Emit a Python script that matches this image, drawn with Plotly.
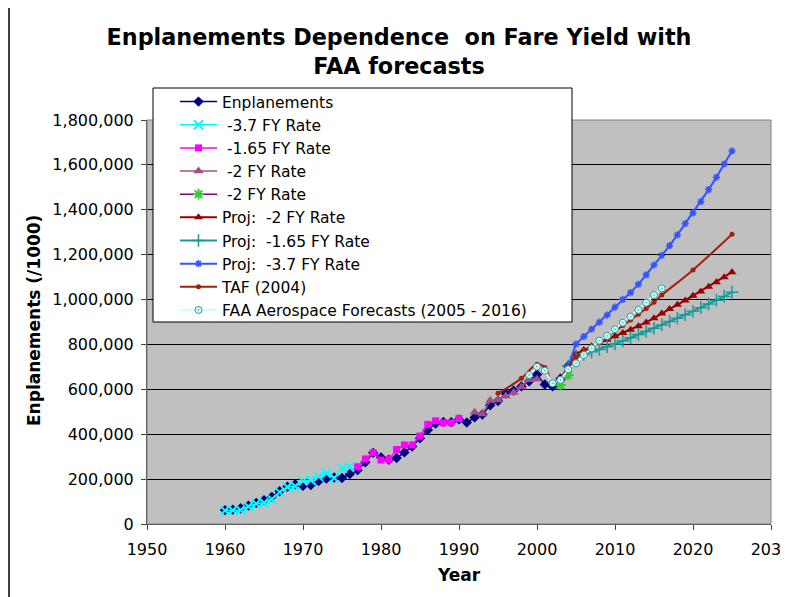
import plotly.graph_objects as go

# ---------------- data ----------------
enp_years = list(range(1960, 2005))
enp_vals = [62000, 64000, 70000, 82000, 94000, 106000, 121000, 146000, 166000, 177000,
            170000, 174000, 191000, 202000, 207000, 205000, 223000, 240000, 275000, 317000,
            297000, 286000, 294000, 319000, 345000, 382000, 419000, 448000, 455000, 454000,
            466000, 452000, 475000, 488000, 529000, 548000, 581000, 595000, 613000, 636000,
            666000, 622000, 613000, 647000, 704000]

fy37_years = list(range(1960, 1977))
fy37_vals = [60000, 61000, 62000, 78000, 90000, 95000, 110000, 142000, 165000, 168000,
             191000, 195000, 211000, 226000, 205000, 248000, 254000]

fy165_years = list(range(1977, 1991))
fy165_vals = [255000, 290000, 318000, 285000, 288000, 332000, 352000, 352000, 392000,
              444000, 460000, 451000, 451000, 470000]

fy2_years = list(range(1992, 2001))
fy2_vals = [498000, 490000, 550000, 552000, 570000, 586000, 610000, 643000, 645000]

fy2b_years = [2003, 2004]
fy2b_vals = [619000, 664000]

proj_years = list(range(2004, 2026))
proj2_vals = [704000, 758000, 775000, 792000, 806000, 821000, 836000, 851000, 866000, 881000,
              898000, 917000, 938000, 958000, 977000, 996000, 1017000, 1036000, 1057000,
              1077000, 1099000, 1122000]
proj165_vals = [704000, 745000, 755000, 767000, 778000, 790000, 802000, 816000, 830000, 844000,
                858000, 872000, 887000, 902000, 917000, 932000, 948000, 964000, 980000,
                997000, 1014000, 1033000]
proj37_vals = [704000, 802000, 835000, 868000, 899000, 931000, 966000, 1001000, 1031000,
               1068000, 1110000, 1154000, 1197000, 1240000, 1288000, 1338000, 1386000,
               1436000, 1490000, 1545000, 1604000, 1662000]

taf_years = [1995, 1998, 2000, 2001, 2002, 2003, 2004, 2005, 2006, 2007, 2008, 2009, 2010,
             2011, 2012, 2013, 2014, 2015, 2016, 2020, 2025]
taf_vals = [582000, 649000, 712000, 697000, 630000, 648000, 700000, 742000, 765000, 788000,
            812000, 836000, 860000, 884000, 909000, 934000, 960000, 988000, 1020000,
            1132000, 1291000]

faa_years = list(range(1999, 2017))
faa_vals = [664000, 701000, 683000, 627000, 642000, 689000, 716000, 753000, 783000, 817000,
            838000, 868000, 897000, 924000, 954000, 986000, 1020000, 1050000]

x_ticks = list(range(1950, 2031, 10))
y_ticks = list(range(0, 1800001, 200000))

FONT = "DejaVu Sans"

fig = go.Figure()

def add(name, xs, ys, lcolor, symbol, msize, mcolor, mline=None, lwidth=1.5, shape="linear"):
    marker = dict(symbol=symbol, size=msize, color=mcolor)
    if mline is not None:
        marker["line"] = dict(color=mline[0], width=mline[1])
    fig.add_trace(go.Scatter(x=xs, y=ys, name=name, mode="lines+markers",
                             line=dict(color=lcolor, width=lwidth, shape=shape),
                             marker=marker))

add("Enplanements", enp_years, enp_vals, "#000080", "diamond", 8, "#000080")
add("\u00a0-3.7 FY Rate", fy37_years, fy37_vals, "#00FFFF", "x-thin", 9, "#00FFFF", ("#00FFFF", 2))
add("\u00a0-1.65 FY Rate", fy165_years, fy165_vals, "#FF00FF", "square", 7, "#FF00FF")
add("\u00a0-2 FY Rate", fy2_years, fy2_vals, "#A04F8A", "triangle-up", 9, "#A04F8A")
add("\u00a0-2 FY Rate", fy2b_years, fy2b_vals, "#800080", "asterisk", 9, "#33CC33", ("#33CC33", 2))
add("Proj:\u00a0\u00a0-2 FY Rate", proj_years, proj2_vals, "#990000", "triangle-up", 8, "#990000", lwidth=2)
add("Proj:\u00a0\u00a0-1.65 FY Rate", proj_years, proj165_vals, "#1A9999", "cross-thin", 9, "#1A9999", ("#1A9999", 1.5), lwidth=2)
add("Proj:\u00a0\u00a0-3.7 FY Rate", proj_years, proj37_vals, "#3355FF", "asterisk", 6, "#3355FF", ("#3355FF", 1.5), lwidth=2)
add("TAF (2004)", taf_years, taf_vals, "#A51E0A", "circle", 5, "#A51E0A", lwidth=2, shape="spline")
add("FAA Aerospace Forecasts (2005 - 2016)", faa_years, faa_vals, "#CCFFFF", "circle-dot", 7, "#CCFFFF", ("#339999", 1), lwidth=2)

# The page body adds an 8px offset; the figure is sized to fit the 788x597 window.
OFF = 8
W, H = 788 - OFF, 597 - OFF
PL, PR, PT, PB = 147, 771, 120, 524          # plot area in window pixels
L, R, T, B = PL - OFF, W - (PR - OFF), PT - OFF, H - (PB - OFF)
pw, ph = PR - PL, PB - PT

def px(xw):
    return (xw - PL) / pw

def py(yw):
    return (PB - yw) / ph

fig.update_layout(
    width=W, height=H,
    margin=dict(l=L, r=R, t=T, b=B, pad=0, autoexpand=False),
    paper_bgcolor="white", plot_bgcolor="#C0C0C0",
    font=dict(family=FONT, color="black"),
    title=dict(text="<b>Enplanements Dependence  on Fare Yield with<br>FAA forecasts</b>",
               font=dict(size=22.3, family=FONT, color="black"),
               x=(399 - OFF) / W, xanchor="center", xref="container",
               y=1 - 37 / H, yanchor="top"),
    xaxis=dict(range=[1950, 2030], tickvals=x_ticks, ticktext=[str(v) for v in x_ticks],
               showgrid=False, zeroline=False, showline=True, linecolor="#404040", linewidth=1,
               ticks="outside", ticklen=5, tickcolor="#404040", ticklabelstandoff=6,
               ticklabeloverflow="allow",
               tickfont=dict(size=16, family=FONT), automargin=False),
    yaxis=dict(range=[0, 1800000], tickvals=y_ticks, tickformat=",d",
               showgrid=True, gridcolor="black", gridwidth=1, zeroline=False,
               showline=True, linecolor="#404040", linewidth=1,
               ticks="outside", ticklen=5, tickcolor="#404040", ticklabelstandoff=4,
               tickfont=dict(size=16, family=FONT), automargin=False),
    showlegend=True,
    legend=dict(x=px(175), y=py(85), xanchor="left", yanchor="top",
                bgcolor="rgba(0,0,0,0)", borderwidth=0,
                font=dict(size=15.5, family=FONT, color="black"),
                itemwidth=37, traceorder="normal"),
    annotations=[
        dict(text="<b>Enplanements (/1000)</b>", textangle=-90, xref="paper", yref="paper",
             x=px(34), y=py(321), xanchor="center", yanchor="middle", showarrow=False,
             font=dict(size=17, family=FONT)),
        dict(text="<b>Year</b>", xref="paper", yref="paper", x=px(459), y=py(575),
             xanchor="center", yanchor="middle", showarrow=False,
             font=dict(size=17, family=FONT)),
    ],
    shapes=[
        dict(type="rect", xref="paper", yref="paper", x0=0, x1=1, y0=0, y1=1,
             line=dict(color="#808080", width=1), fillcolor="rgba(0,0,0,0)", layer="above"),
        dict(type="rect", xref="paper", yref="paper", x0=px(153), x1=px(572), y0=py(322), y1=py(88),
             line=dict(color="black", width=1), fillcolor="white", layer="above"),
        dict(type="line", xref="paper", yref="paper", x0=px(9), x1=px(9), y0=py(0), y1=py(597),
             line=dict(color="black", width=1.5)),
    ],
)

fig.write_html("out.html")
